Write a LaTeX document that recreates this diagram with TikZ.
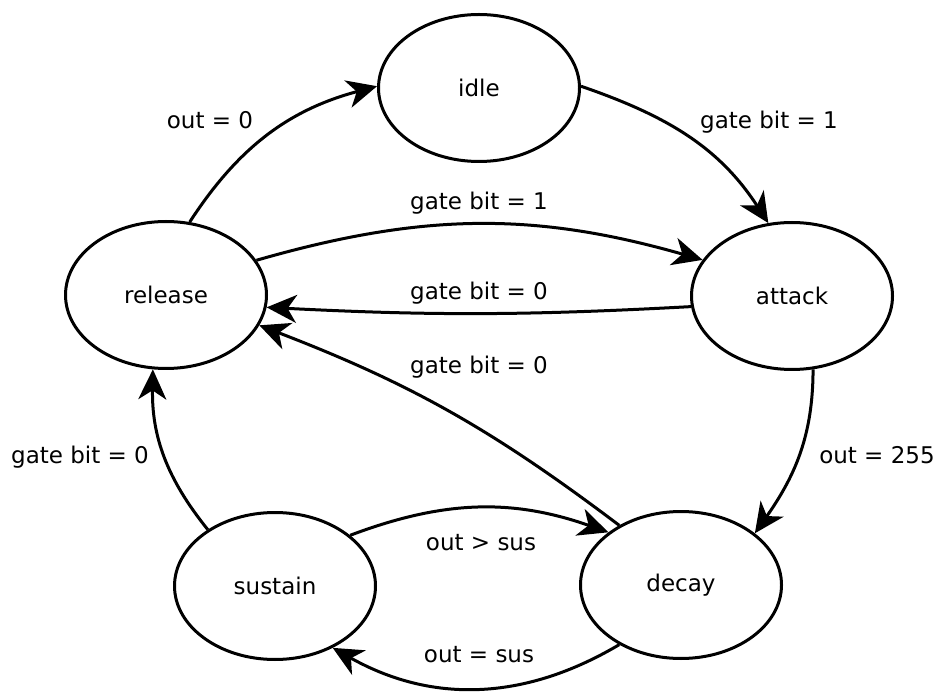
\documentclass[tikz,border=0pt]{standalone}
\usepackage{fontspec}
\setmainfont{DejaVu Sans}
\usetikzlibrary{arrows.meta,shapes.geometric}

\begin{document}
\begin{tikzpicture}[x=1pt,y=1pt,
    state/.style={draw,ellipse,line width=3pt,minimum width=201pt,minimum height=147pt,inner sep=0pt,font=\fontsize{23}{27}\selectfont},
    lbl/.style={inner sep=0pt,font=\fontsize{23}{27}\selectfont},
    trans/.style={line width=3pt,-{Stealth[length=30pt,width=28pt,inset=9pt]}}]

    \useasboundingbox (0,0) rectangle (936,691);

    %states
    \node[state] (idle) at (479,603) {idle};
    \node[state] (release) at (166,396) {release};
    \node[state] (attack) at (792,395) {attack};
    \node[state] (sustain) at (275,105) {sustain};
    \node[state] (decay) at (681,106) {decay};

    %release -> idle
    \draw[trans] (release.72) to[out=57,in=195] (idle.179);
    \node[lbl] (l1) at (210,571) {out = 0};
    %idle -> attack
    \draw[trans] (idle.1) to[out=-19,in=123] (attack.108);
    \node[lbl] (l2) at (769,569) {gate bit = 1};
    %release -> attack
    \draw[trans] (release.21) to[bend left=16] (attack.158);
    \node[lbl] (l3) at (479,488) {gate bit = 1};
    %attack -> release
    \draw[trans] (attack.186) to[bend left=3] (release.353);
    \node[lbl] (l4) at (479,398) {gate bit = 0};
    %decay -> release
    \draw[trans] (decay.136) to[bend right=8] (release.342);
    \node[lbl] (l5) at (479,324) {gate bit = 0};
    %attack -> decay
    \draw[trans] (attack.286) to[out=270,in=55] (decay.35);
    \node[lbl] (l6) at (877,236) {out = 255};
    %sustain -> decay
    \draw[trans] (sustain.34) to[bend left=20] (decay.144);
    \node[lbl] (l7) at (481,148) {out > sus};
    %decay -> sustain
    \draw[trans] (decay.224) to[bend left=30] (sustain.313);
    \node[lbl] (l8) at (479,36) {out = sus};
    %sustain -> release
    \draw[trans] (sustain.140) to[bend left=20] (release.260);
    \node[lbl] (l9) at (80,234) {gate bit = 0};

\end{tikzpicture}
\end{document}
